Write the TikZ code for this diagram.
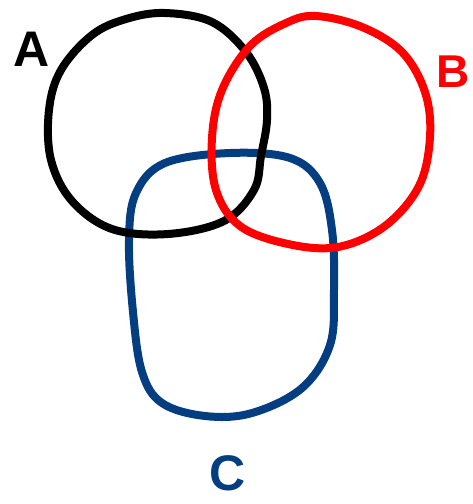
\documentclass[tikz,border=0pt]{standalone}
\usepackage{fontspec}
\setmainfont{Liberation Sans}
\definecolor{vblue}{RGB}{4,62,128}
\definecolor{vred}{RGB}{255,0,0}
\begin{document}
\begin{tikzpicture}[x=1pt,y=-1pt,
  ring/.style={line width=8pt,line cap=round,line join=round},
  lab/.style={font=\bfseries\fontsize{50}{50}\selectfont,inner sep=0pt}]
\useasboundingbox (0,0) rectangle (472,504);
\draw[ring,vblue] plot[smooth cycle,tension=0.6] coordinates {
 (230,153) (290,158) (320,183) (332,230) (334,290) (330,345) (302,388)
 (252,413) (205,416) (162,403) (142,372) (133,312) (129,240) (136,193) (165,163)};
\draw[ring,black] plot[smooth cycle,tension=0.6] coordinates {
 (165,13) (212,22) (246,52) (264,88) (267,120) (261,156) (254,190) (224,221)
 (168,234) (112,229) (72,201) (51,160) (49,110) (61,70) (92,35) (126,19)};
\draw[ring,vred] plot[smooth cycle,tension=0.6] coordinates {
 (316,16) (362,27) (402,52) (425,92) (430,137) (419,186) (385,226)
 (338,247) (288,244) (240,226) (216,190) (212,138) (222,90) (250,46) (286,23)};
\node[lab,black] (a) at (32,49) {A};
\node[lab,vred,anchor=east,font=\bfseries\fontsize{46}{46}\selectfont] (b) at (470,72) {B};
\node[lab,vblue] (c) at (228,473) {C};
\end{tikzpicture}
\end{document}
